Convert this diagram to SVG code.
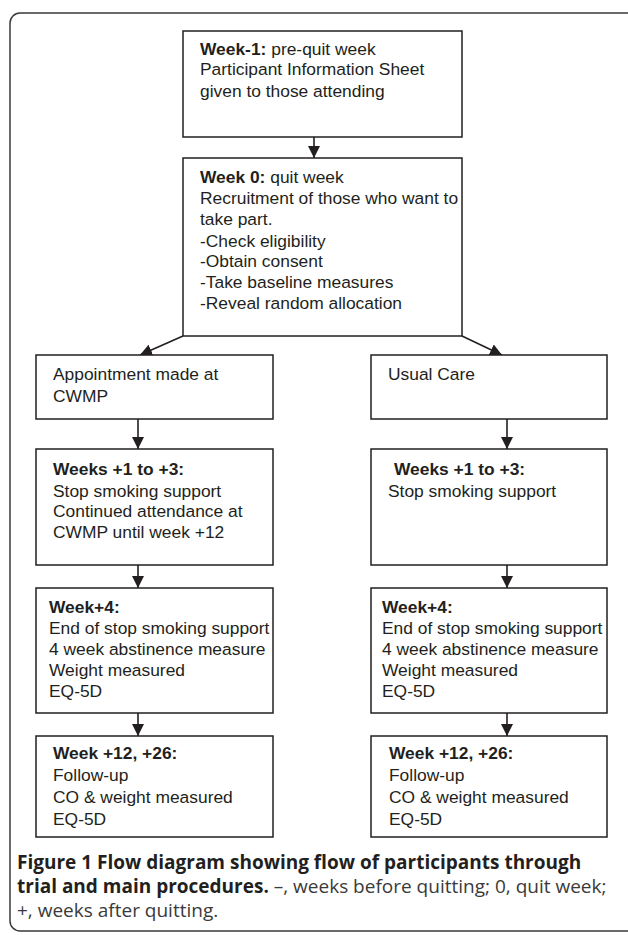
<svg xmlns="http://www.w3.org/2000/svg" width="628" height="935" viewBox="0 0 628 935">
<defs>
<style>
.box{fill:#fff;stroke:#231f20;stroke-width:1.5}
.t{font-family:"Liberation Sans",Arial,sans-serif;font-size:17.4px;fill:#231f20}
.b{font-weight:bold}
.edge{stroke:#231f20;stroke-width:1.6;fill:none}
.cap{font-family:"Open Sans","Noto Sans",sans-serif;font-size:19px;fill:#231f20}
.capr{fill:#3a3a3a}
</style>
<marker id="ah" viewBox="0 0 12 12" refX="12" refY="6" markerWidth="12" markerHeight="12" markerUnits="userSpaceOnUse" orient="auto">
<path d="M0,0 L12,6 L0,12 z" fill="#231f20"/>
</marker>
</defs>
<rect width="628" height="935" fill="#fff"/>
<rect x="10" y="13" width="628" height="918" rx="10" ry="10" fill="none" stroke="#3a3a3a" stroke-width="1.5"/>

<g id="connectors">
<line class="edge" x1="314" y1="137" x2="314" y2="158" marker-end="url(#ah)"/>
<line class="edge" x1="183" y1="336" x2="140" y2="355" marker-end="url(#ah)"/>
<line class="edge" x1="462" y1="336" x2="502" y2="355" marker-end="url(#ah)"/>
<line class="edge" x1="138" y1="419" x2="138" y2="449" marker-end="url(#ah)"/>
<line class="edge" x1="507" y1="419" x2="507" y2="449" marker-end="url(#ah)"/>
<line class="edge" x1="138" y1="565" x2="138" y2="588" marker-end="url(#ah)"/>
<line class="edge" x1="507" y1="565" x2="507" y2="588" marker-end="url(#ah)"/>
<line class="edge" x1="138" y1="713" x2="138" y2="736" marker-end="url(#ah)"/>
<line class="edge" x1="507" y1="713" x2="507" y2="736" marker-end="url(#ah)"/>
</g>

<g id="week-minus1">
<rect class="box" x="183" y="31" width="279" height="106"/>
<text class="t" x="200" y="55"><tspan class="b">Week-1:</tspan> pre-quit week</text>
<text class="t" x="200" y="75">Participant Information Sheet</text>
<text class="t" x="200" y="97">given to those attending</text>
</g>

<g id="week0">
<rect class="box" x="183" y="158" width="279" height="178"/>
<text class="t" x="200" y="183"><tspan class="b">Week 0:</tspan> quit week</text>
<text class="t" x="200" y="204">Recruitment of those who want to</text>
<text class="t" x="200" y="225">take part.</text>
<text class="t" x="200" y="247">-Check eligibility</text>
<text class="t" x="200" y="267">-Obtain consent</text>
<text class="t" x="200" y="288">-Take baseline measures</text>
<text class="t" x="200" y="309">-Reveal random allocation</text>
</g>

<g id="appointment">
<rect class="box" x="36" y="355" width="237" height="64"/>
<text class="t" x="53" y="380">Appointment made at</text>
<text class="t" x="53" y="402">CWMP</text>
</g>

<g id="usual-care">
<rect class="box" x="371" y="355" width="236" height="64"/>
<text class="t" x="388" y="380">Usual Care</text>
</g>

<g id="left-weeks1-3">
<rect class="box" x="36" y="449" width="237" height="116"/>
<text class="t b" x="53" y="475">Weeks +1 to +3:</text>
<text class="t" x="53" y="497">Stop smoking support</text>
<text class="t" x="53" y="517">Continued attendance at</text>
<text class="t" x="53" y="538">CWMP until week +12</text>
</g>

<g id="right-weeks1-3">
<rect class="box" x="371" y="449" width="236" height="116"/>
<text class="t b" x="394" y="475">Weeks +1 to +3:</text>
<text class="t" x="388" y="497">Stop smoking support</text>
</g>

<g id="left-week4">
<rect class="box" x="36" y="588" width="237" height="125"/>
<text class="t b" x="49" y="613">Week+4:</text>
<text class="t" x="49" y="634">End of stop smoking support</text>
<text class="t" x="49" y="655">4 week abstinence measure</text>
<text class="t" x="49" y="676">Weight measured</text>
<text class="t" x="49" y="697">EQ-5D</text>
</g>

<g id="right-week4">
<rect class="box" x="371" y="588" width="236" height="125"/>
<text class="t b" x="382" y="613">Week+4:</text>
<text class="t" x="382" y="634">End of stop smoking support</text>
<text class="t" x="382" y="655">4 week abstinence measure</text>
<text class="t" x="382" y="676">Weight measured</text>
<text class="t" x="382" y="697">EQ-5D</text>
</g>

<g id="left-week12">
<rect class="box" x="36" y="736" width="237" height="101"/>
<text class="t b" x="53" y="759">Week +12, +26:</text>
<text class="t" x="53" y="781">Follow-up</text>
<text class="t" x="53" y="803">CO &amp; weight measured</text>
<text class="t" x="53" y="825">EQ-5D</text>
</g>

<g id="right-week12">
<rect class="box" x="371" y="736" width="236" height="101"/>
<text class="t b" x="389" y="759">Week +12, +26:</text>
<text class="t" x="389" y="781">Follow-up</text>
<text class="t" x="389" y="803">CO &amp; weight measured</text>
<text class="t" x="389" y="825">EQ-5D</text>
</g>

<g id="caption">
<text class="cap" x="17" y="869"><tspan font-weight="bold">Figure 1 Flow diagram showing flow of participants through</tspan></text>
<text class="cap" x="17" y="893"><tspan font-weight="bold">trial and main procedures.</tspan><tspan class="capr"> –, weeks before quitting; 0, quit week;</tspan></text>
<text class="cap capr" x="17" y="917">+, weeks after quitting.</text>
</g>
</svg>
